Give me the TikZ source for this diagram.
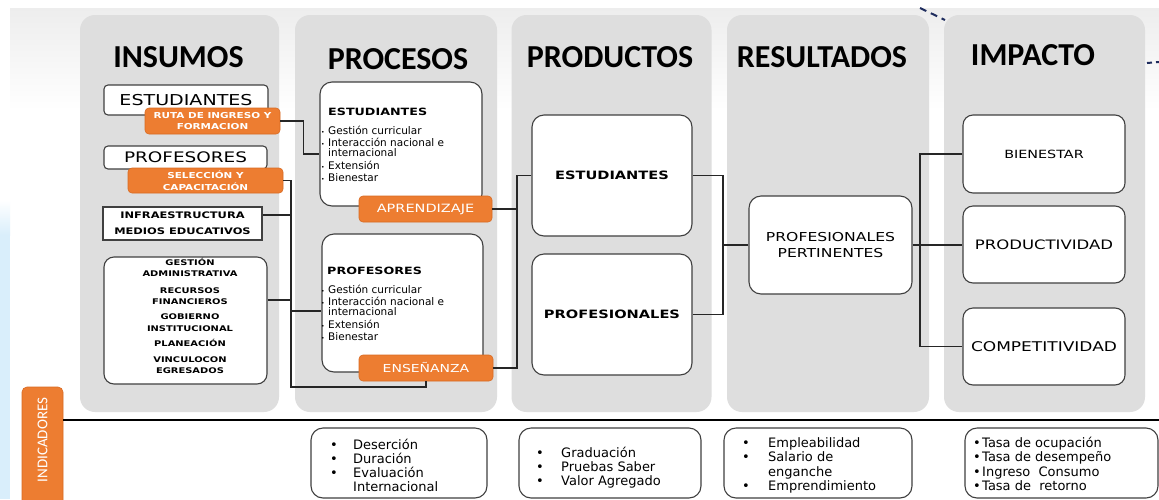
\documentclass[tikz,border=0pt]{standalone}
\usepackage{fontspec}
\setmainfont{Carlito}
\newfontfamily\wf{DejaVu Sans}[FakeStretch=1.27]
\newfontfamily\djv{DejaVu Sans}
\definecolor{colgray}{HTML}{DEDEDE}
\definecolor{bgtop}{HTML}{EDEDED}
\definecolor{orng}{HTML}{ED7D31}
\definecolor{orngd}{HTML}{D86A22}
\definecolor{bord}{HTML}{404040}
\definecolor{lblue}{HTML}{D9EEFB}
\definecolor{navy}{HTML}{1F2D5E}
\newcommand{\myb}[1]{\makebox[#1][l]{•}}
\newcommand{\mysb}{\makebox[7pt][l]{\fontsize{6}{6}\selectfont•}}
\begin{document}
\begin{tikzpicture}[x=1pt,y=-1pt,
  colbox/.style={fill=colgray, rounded corners=15pt, inner sep=0pt},
  head/.style={font=\bfseries\fontsize{32}{36}\selectfont, inner sep=0pt},
  wbox/.style={draw=bord, fill=white, line width=1.1pt, inner sep=0pt, align=center},
  obox/.style={fill=orng, draw=orngd, line width=0.6pt, rounded corners=4pt, text=white, inner sep=0pt, align=center},
  conn/.style={draw=black!85, line width=1.1pt},
  lst/.style={inner sep=0pt, align=left, anchor=north west}
]
\useasboundingbox (0,0) rectangle (1159,499);
\clip (0,0) rectangle (1159,499);
% background
\fill[white] (0,0) rectangle (1159,499);
\shade[top color=bgtop, bottom color=white] (10,8) rectangle (1159,110);
\fill[lblue] (0,235) rectangle (10,499);
\shade[top color=white, bottom color=lblue] (0,200) rectangle (10,235);
\draw[navy, line width=2pt, dash pattern=on 7pt off 5pt] (920,8) -- (945,20);
\draw[navy, line width=2pt, dash pattern=on 5pt off 4pt] (1147,63) -- (1159,62);

% columns
\node[colbox, minimum width=199pt, minimum height=397pt] (colA) at (179.5,213.5) {};
\node[colbox, minimum width=202pt, minimum height=397pt] (colB) at (396,213.5) {};
\node[colbox, minimum width=200pt, minimum height=397pt] (colC) at (611.5,213.5) {};
\node[colbox, minimum width=202pt, minimum height=397pt] (colD) at (828,213.5) {};
\node[colbox, minimum width=201pt, minimum height=397pt] (colE) at (1044.5,213.5) {};

\node[head] (hA) at (178.5,57) {INSUMOS};
\node[head] (hB) at (398,59) {PROCESOS};
\node[head] (hC) at (610,57) {PRODUCTOS};
\node[head] (hD) at (822,57) {RESULTADOS};
\node[head] (hE) at (1033,55) {IMPACTO};

% INSUMOS
\node[wbox, rounded corners=4pt, minimum width=164pt, minimum height=30pt,
      font=\wf\fontsize{15}{17}\selectfont] (iest) at (186,100) {ESTUDIANTES};
\node[obox, minimum width=135pt, minimum height=26pt,
      font=\wf\bfseries\fontsize{8.2}{11.5}\selectfont] (ruta) at (212.5,121) {RUTA DE INGRESO Y\\FORMACION};
\node[wbox, rounded corners=4pt, minimum width=163pt, minimum height=23pt,
      font=\wf\fontsize{14.5}{16}\selectfont] (iprof) at (185.5,157.5) {PROFESORES};
\node[obox, minimum width=155pt, minimum height=25pt,
      font=\wf\bfseries\fontsize{8.2}{12.5}\selectfont] (sel) at (205.5,180.5) {SELECCIÓN Y\\CAPACITACIÓN};
\node[wbox, minimum width=159pt, minimum height=33pt,
      font=\wf\bfseries\fontsize{9}{16}\selectfont] (infra) at (182.5,223.5) {INFRAESTRUCTURA\\MEDIOS EDUCATIVOS};
\node[wbox, rounded corners=10pt, minimum width=163pt, minimum height=127pt] (gest) at (185.5,320.5) {};
\node[inner sep=0pt, align=center, font=\wf\bfseries\fontsize{7.8}{11.5}\selectfont] (gestt) at (190,316)
  {GESTIÓN\\ADMINISTRATIVA\\[5pt]RECURSOS\\FINANCIEROS\\[3.5pt]GOBIERNO\\INSTITUCIONAL\\[3.5pt]PLANEACIÓN\\[4.5pt]VINCULOCON\\EGRESADOS};

% PROCESOS
\node[wbox, rounded corners=12pt, minimum width=162pt, minimum height=124pt] (pest) at (401,144) {};
\node[inner sep=0pt, anchor=west, font=\wf\bfseries\fontsize{10}{12}\selectfont] (pestt) at (328,112) {ESTUDIANTES};
\node[lst, font=\djv\fontsize{10.5}{11.5}\selectfont] (pestl) at (321,125.5)
  {\mysb Gestión curricular\\[0.5pt]\mysb Interacción nacional e\\[-1pt]\hspace*{7pt}internacional\\[1.5pt]\mysb Extensión\\[0.5pt]\mysb Bienestar};
\node[obox, minimum width=133pt, minimum height=26pt, font=\wf\fontsize{11.4}{13}\selectfont] (apr) at (425.5,209) {APRENDIZAJE};

\node[wbox, rounded corners=12pt, minimum width=161pt, minimum height=138pt] (pprof) at (402.5,303) {};
\node[inner sep=0pt, anchor=west, font=\wf\bfseries\fontsize{10}{12}\selectfont] (pproft) at (327,271) {PROFESORES};
\node[lst, font=\djv\fontsize{10.5}{11.5}\selectfont] (pprofl) at (321,284.5)
  {\mysb Gestión curricular\\[0.5pt]\mysb Interacción nacional e\\[-1pt]\hspace*{7pt}internacional\\[1.5pt]\mysb Extensión\\[0.5pt]\mysb Bienestar};
\node[obox, minimum width=134pt, minimum height=26pt, font=\wf\fontsize{11}{13}\selectfont] (ens) at (426,368) {ENSEÑANZA};

% PRODUCTOS
\node[wbox, rounded corners=12pt, minimum width=160pt, minimum height=121pt,
      font=\wf\bfseries\fontsize{11.5}{13}\selectfont] (dest) at (612,175.5) {ESTUDIANTES};
\node[wbox, rounded corners=12pt, minimum width=160pt, minimum height=121pt,
      font=\wf\bfseries\fontsize{11.5}{13}\selectfont] (dprof) at (612,314.5) {PROFESIONALES};

% RESULTADOS
\node[wbox, rounded corners=12pt, minimum width=163pt, minimum height=98pt,
      font=\wf\fontsize{12.3}{16}\selectfont] (rpp) at (830.5,245) {PROFESIONALES\\PERTINENTES};

% IMPACTO
\node[wbox, rounded corners=10pt, minimum width=162pt, minimum height=78pt,
      font=\wf\fontsize{11.3}{13}\selectfont] (ibien) at (1044,154) {BIENESTAR};
\node[wbox, rounded corners=10pt, minimum width=162pt, minimum height=77pt,
      font=\wf\fontsize{13}{15}\selectfont] (iprodv) at (1044,244.5) {PRODUCTIVIDAD};
\node[wbox, rounded corners=10pt, minimum width=162pt, minimum height=77pt,
      font=\wf\fontsize{13.4}{15}\selectfont] (icomp) at (1044,346.5) {COMPETITIVIDAD};

% connectors
\coordinate (busB) at (291,387);
\coordinate (pbx) at (517,0);
\coordinate (rbx) at (723,0);
\coordinate (ibx) at (920,0);
\draw[conn] (ruta.east) -- ++(23,0) |- ([yshift=-10pt]pest.west);
\draw[conn] (sel.east) -| (busB) -| (ens.south);
\draw[conn] ([yshift=8.5pt]infra.east) -- ([yshift=8.5pt]infra.east -| busB);
\draw[conn] ([yshift=20.5pt]gest.east) -- ([yshift=20.5pt]gest.east -| busB);
\draw[conn] ([yshift=-8pt]pprof.west -| busB) -- ([yshift=-8pt]pprof.west);
\draw[conn] (dest.west) -| (pbx |- ens.east) -- (ens.east);
\draw[conn] (apr.east) -- (apr.east -| pbx);
\draw[conn] (dest.east) -| (rbx |- dprof.east) -- (dprof.east);
\draw[conn] (rbx |- rpp.west) -- (rpp.west);
\draw[conn] (rpp.east) -- (rpp.east -| iprodv.west);
\draw[conn] (ibien.west) -| (ibx |- icomp.west) -- (icomp.west);

% indicators
\node[fill=orng, draw=orngd, line width=0.6pt, rounded corners=5pt, minimum width=41pt, minimum height=123pt, inner sep=0pt] (indb) at (42.5,448.5) {};
\node[rotate=90, text=white, inner sep=0pt, font=\fontsize{15}{15}\selectfont] (indt) at (42.5,440) {INDICADORES};
\coordinate (lineR) at (1159,420);
\draw[line width=1.2pt] (indb.east |- lineR) -- (lineR);

\node[wbox, rounded corners=12pt, minimum width=176pt, minimum height=70pt] (xproc) at (399,463) {};
\node[wbox, rounded corners=12pt, minimum width=182pt, minimum height=70pt] (xprod) at (610,463) {};
\node[wbox, rounded corners=12pt, minimum width=188pt, minimum height=70pt] (xres) at (818,463) {};
\node[wbox, rounded corners=12pt, minimum width=193pt, minimum height=70pt] (ximp) at (1061.5,463) {};

\node[lst, font=\djv\fontsize{13}{14}\selectfont] (xprocl) at (330,438.5)
  {\myb{23pt}Deserción\\\myb{23pt}Duración\\\myb{23pt}Evaluación\\\hspace*{23pt}Internacional};
\node[lst, font=\djv\fontsize{13}{14}\selectfont] (xprodl) at (536,446.5)
  {\myb{25pt}Graduación\\\myb{25pt}Pruebas Saber\\\myb{25pt}Valor Agregado};
\node[lst, font=\djv\fontsize{13}{14.3}\selectfont] (xresl) at (742,437.5)
  {\myb{26pt}Empleabilidad\\\myb{26pt}Salario de\\\hspace*{26pt}enganche\\\myb{26pt}Emprendimiento};
\node[lst, font=\djv\fontsize{13}{14.6}\selectfont] (ximpl) at (973,436.5)
  {\myb{9pt}Tasa de ocupación\\\myb{9pt}Tasa de desempeño\\\myb{9pt}Ingreso\ \ Consumo\\\myb{9pt}Tasa de\ \ retorno};
\end{tikzpicture}
\end{document}
